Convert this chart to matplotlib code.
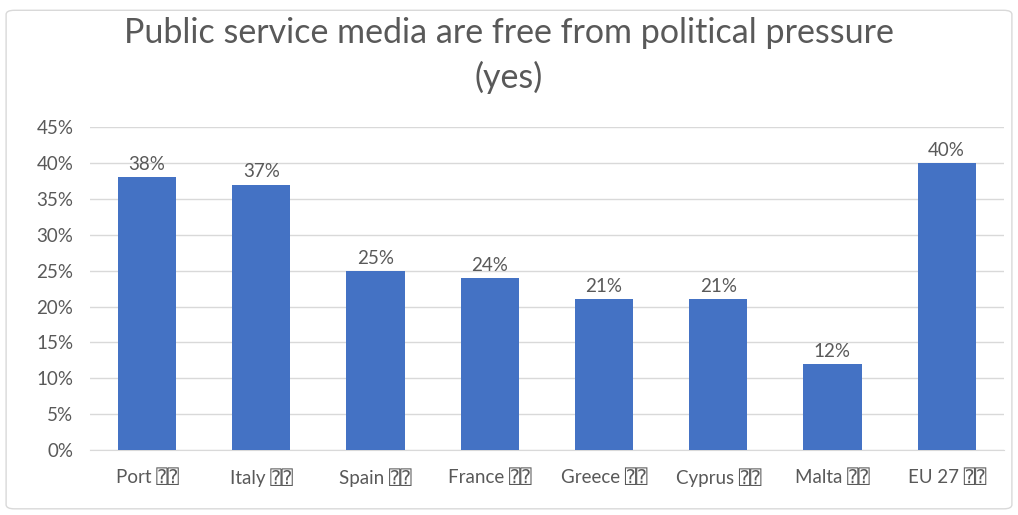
import matplotlib.pyplot as plt
import matplotlib.patches as mpatches
from matplotlib.ticker import PercentFormatter

countries = ["Port", "Italy", "Spain", "France", "Greece", "Cyprus", "Malta", "EU 27"]
# the flags after each name show up as "?" boxes in the source chart
flag_marks = ["\u2370\u2370"] * len(countries)
yes_share = [38, 37, 25, 24, 21, 21, 12, 40]

BLUE = "#4472C4"
TEXT = "#595959"
GRID = "#D9D9D9"

plt.rcParams["font.family"] = ["Lato", "DejaVu Sans", "DejaVu Sans Mono"]

fig = plt.figure(figsize=(10.18, 5.15), dpi=100)
ax = fig.add_axes([0.0884, 0.126, 0.8976, 0.627])

labels = [f"{c} {f}" for c, f in zip(countries, flag_marks)]
x = range(len(countries))
bars = ax.bar(x, yes_share, width=0.51, color=BLUE, zorder=3)
ax.bar_label(bars, labels=[f"{v}%" for v in yes_share], padding=3, fontsize=13.5, color=TEXT)

ax.set_xlim(-0.5, len(countries) - 0.5)
ax.set_ylim(0, 45)
ax.set_yticks(range(0, 46, 5))
ax.yaxis.set_major_formatter(PercentFormatter(decimals=0))
ax.set_xticks(list(x))
ax.set_xticklabels(labels)
ax.grid(axis="y", color=GRID, linewidth=1, zorder=0)
ax.tick_params(axis="both", length=0, labelsize=13.5, colors=TEXT)
ax.tick_params(axis="x", pad=13)
ax.tick_params(axis="y", pad=12)
for side in ("top", "right", "left"):
    ax.spines[side].set_visible(False)
ax.spines["bottom"].set_color(GRID)

fig.text(0.5, 0.936, "Public service media are free from political pressure",
         ha="center", va="center", fontsize=24.5, color=TEXT)
fig.text(0.5, 0.849, "(yes)", ha="center", va="center", fontsize=24.5, color=TEXT)

fig.patches.append(mpatches.FancyBboxPatch((0.006, 0.012), 0.988, 0.968,
                                           boxstyle="round,pad=0,rounding_size=0.008",
                                           transform=fig.transFigure, fill=False,
                                           edgecolor=GRID, linewidth=1))

fig.savefig("out.png", dpi=100, facecolor="white")
